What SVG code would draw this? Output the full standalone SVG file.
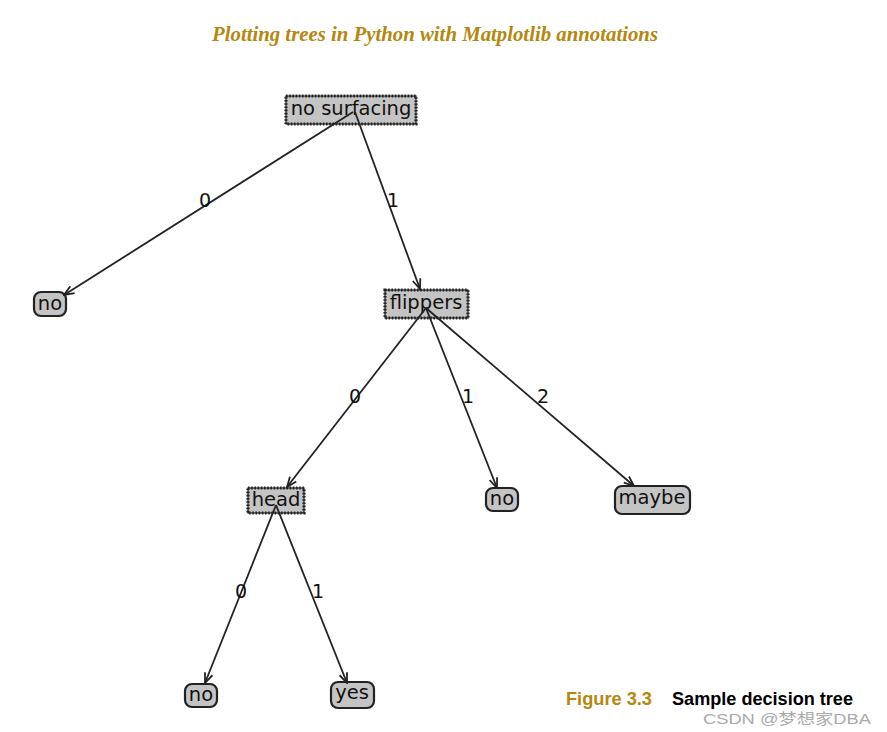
<svg xmlns="http://www.w3.org/2000/svg" width="887" height="732" viewBox="0 0 887 732">
<style>
.t{font-family:"DejaVu Sans",sans-serif;font-size:19.5px;fill:#111;text-anchor:middle;dominant-baseline:central}
.lbl{font-family:"DejaVu Sans",sans-serif;font-size:19px;fill:#111;text-anchor:middle;dominant-baseline:central}
.saw{fill:#c4c4c4;stroke:#222;stroke-width:1.2}
.sawd{fill:none;stroke:#222;stroke-width:3.2;stroke-dasharray:1.6 1.6}
.leaf{fill:#c4c4c4;stroke:#222;stroke-width:2.2}
.e{fill:none;stroke:#222;stroke-width:1.8;marker-end:url(#ah)}
</style>
<defs>
<marker id="ah" viewBox="0 0 12 10" refX="11" refY="5" markerWidth="12" markerHeight="10" markerUnits="userSpaceOnUse" orient="auto">
<path d="M1,1 L11,5 L1,9" fill="none" stroke="#222" stroke-width="1.8"/>
</marker>
</defs>
<rect width="887" height="732" fill="#fff"/>
<text x="435" y="41" font-family="Liberation Serif,serif" font-style="italic" font-weight="bold" font-size="20" fill="#b5870e" text-anchor="middle" textLength="446" lengthAdjust="spacingAndGlyphs">Plotting trees in Python with Matplotlib annotations</text>

<g id="n_nosurfacing">
<rect class="saw" x="286" y="96" width="130" height="28"/>
<rect class="sawd" x="286" y="96" width="130" height="28"/>
<text class="t" x="351" y="108">no surfacing</text>
</g>
<g id="n_flippers">
<rect class="saw" x="385" y="290" width="83" height="28"/>
<rect class="sawd" x="385" y="290" width="83" height="28"/>
<text class="t" x="426" y="302">flippers</text>
</g>
<g id="n_head">
<rect class="saw" x="248" y="488" width="56" height="25"/>
<rect class="sawd" x="248" y="488" width="56" height="25"/>
<text class="t" x="276" y="499">head</text>
</g>
<g id="n_no1">
<rect class="leaf" x="34" y="292" width="32" height="24" rx="7"/>
<text class="t" x="50" y="303">no</text>
</g>
<g id="n_no2">
<rect class="leaf" x="486" y="488" width="32" height="23" rx="7"/>
<text class="t" x="502" y="498">no</text>
</g>
<g id="n_maybe">
<rect class="leaf" x="615" y="486" width="75" height="28" rx="7"/>
<text class="t" x="652" y="497">maybe</text>
</g>
<g id="n_no3">
<rect class="leaf" x="185" y="684" width="32" height="23" rx="7"/>
<text class="t" x="201" y="694">no</text>
</g>
<g id="n_yes">
<rect class="leaf" x="331" y="682" width="43" height="26" rx="7"/>
<text class="t" x="352" y="692">yes</text>
</g>

<g id="edges">
<line class="e" x1="353" y1="112" x2="64" y2="295"/>
<line class="e" x1="355" y1="112" x2="420" y2="289"/>
<line class="e" x1="426" y1="308" x2="287" y2="487"/>
<line class="e" x1="426" y1="308" x2="497" y2="488"/>
<line class="e" x1="426" y1="308" x2="634" y2="486"/>
<line class="e" x1="276" y1="505" x2="205" y2="683"/>
<line class="e" x1="276" y1="505" x2="347" y2="683"/>
<text class="lbl" x="205" y="200">0</text>
<text class="lbl" x="393" y="200">1</text>
<text class="lbl" x="355" y="396">0</text>
<text class="lbl" x="468" y="396">1</text>
<text class="lbl" x="543" y="396">2</text>
<text class="lbl" x="241" y="591">0</text>
<text class="lbl" x="318" y="591">1</text>
</g>

<text x="566" y="705" font-family="Liberation Sans,sans-serif" font-weight="bold" font-size="17.5" fill="#b5870e" textLength="86" lengthAdjust="spacingAndGlyphs">Figure 3.3</text>
<text x="672" y="705" font-family="Liberation Sans,sans-serif" font-weight="bold" font-size="17.5" fill="#000" textLength="181" lengthAdjust="spacingAndGlyphs">Sample decision tree</text>
<text x="703" y="724" font-family="Liberation Sans,Noto Sans CJK SC,sans-serif" font-size="15" fill="#aaa" textLength="168" lengthAdjust="spacingAndGlyphs">CSDN @梦想家DBA</text>
</svg>
